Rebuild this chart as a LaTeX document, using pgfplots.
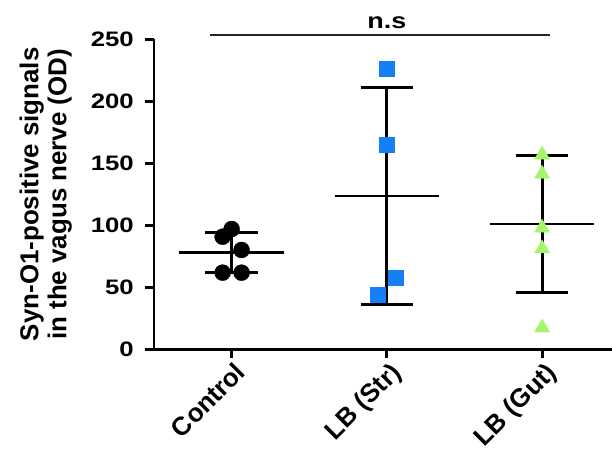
\documentclass[border=0pt]{standalone}
\usepackage{fontspec}
\setmainfont{Liberation Sans}
\newfontfamily\widefont[FakeStretch=1.23]{Liberation Sans}
\usepackage{pgfplots}
\pgfplotsset{compat=1.18}
\definecolor{strblue}{RGB}{21,128,245}
\definecolor{gutgreen}{RGB}{163,245,107}

\begin{document}
\begin{tikzpicture}
\path[use as bounding box] (0,0) rectangle (612bp,452bp);
\begin{axis}[
  at={(154bp,102.7bp)}, anchor=south west,
  scale only axis, width=458bp, height=310bp,
  xmin=-0.5, xmax=2.45, ymin=0, ymax=250,
  axis x line=bottom, axis y line=left,
  axis line style={-, line width=2.8bp, black},
  xtick={0,1,2}, xticklabels={Control, LB (Str), LB (Gut)},
  ytick={0,50,100,150,200,250},
  tick align=outside, major tick length=9bp,
  every tick/.style={black, line width=2.8bp},
  minor tick num=0,
  /pgf/number format/assume math mode=true,
  yticklabel style={inner sep=0pt, xshift=-11bp, font=\fontsize{21}{25}\widefont\bfseries},
  xticklabel style={rotate=45, anchor=north east, inner sep=0pt, yshift=-3bp, font=\fontsize{26}{30}\selectfont\bfseries},
  ylabel={Syn-O1-positive signals\\in the vagus nerve (OD)},
  ylabel style={at={(axis description cs:-0.179,0.5)}, anchor=south, inner sep=0pt, align=center, font=\fontsize{26}{28}\selectfont\bfseries},
  clip=false,
]
% data points
\addplot[only marks, mark=*, mark size=8bp, mark options={draw=black, fill=black}]
  coordinates {(0,97.0) (-0.058,90.8) (0.064,80.1) (-0.058,61.8) (0.064,61.8)};
\addplot[only marks, mark=square*, mark size=7.5bp, mark options={draw=strblue, fill=strblue}]
  coordinates {(1,226.0) (1,164.8) (1.059,58.1) (0.94,43.8)};
\addplot[only marks, mark=triangle*, mark size=8.7bp, mark options={draw=gutgreen, fill=gutgreen, yshift=-2.2bp}]
  coordinates {(2,158.7) (2,143.2) (2,99.7) (2,83.0) (2,19.2)};
% mean and SD, Control
\addplot[black, line width=2.8bp] coordinates {(-0.337,78.3) (0.337,78.3)};
\addplot[black, line width=2.8bp] coordinates {(0,61.8) (0,94.4)};
\addplot[black, line width=2.8bp] coordinates {(-0.169,94.4) (0.169,94.4)};
\addplot[black, line width=2.8bp] coordinates {(-0.169,61.8) (0.169,61.8)};
% LB (Str)
\addplot[black, line width=2.8bp] coordinates {(0.663,123.6) (1.337,123.6)};
\addplot[black, line width=2.8bp] coordinates {(1,36.3) (1,211.0)};
\addplot[black, line width=2.8bp] coordinates {(0.831,211.0) (1.169,211.0)};
\addplot[black, line width=2.8bp] coordinates {(0.831,36.3) (1.169,36.3)};
% LB (Gut)
\addplot[black, line width=2.8bp] coordinates {(1.663,101.0) (2.337,101.0)};
\addplot[black, line width=2.8bp] coordinates {(2,46.0) (2,156.2)};
\addplot[black, line width=2.8bp] coordinates {(1.831,156.2) (2.169,156.2)};
\addplot[black, line width=2.8bp] coordinates {(1.831,46.0) (2.169,46.0)};
% significance line
\addplot[black!85, line width=2.4bp] coordinates {(-0.14,253.5) (2.05,253.5)};
\node[anchor=base, inner sep=0pt, font=\fontsize{22}{26}\widefont\bfseries] at ([yshift=6.7bp]axis cs:1,253.5) {n.s};
\end{axis}
\end{tikzpicture}
\end{document}
